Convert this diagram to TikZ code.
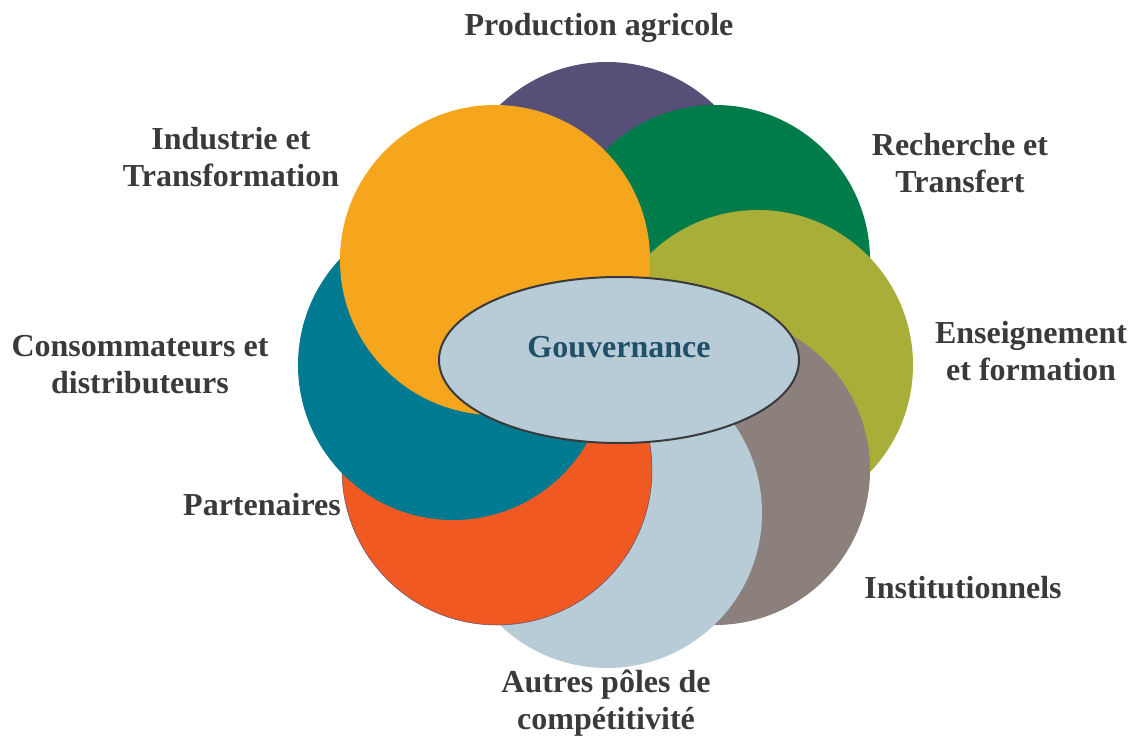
\documentclass[tikz,border=0pt]{standalone}
\usepackage{fontspec}
\setmainfont{Liberation Serif}
\usepackage{tikz}
\usetikzlibrary{shapes.geometric}

\definecolor{cprod}{HTML}{564F78}
\definecolor{crech}{HTML}{007B4A}
\definecolor{cens}{HTML}{A8AE38}
\definecolor{cinst}{HTML}{8C807C}
\definecolor{cautres}{HTML}{B7CCD7}
\definecolor{cpart}{HTML}{F05A22}
\definecolor{ccons}{HTML}{007A91}
\definecolor{cind}{HTML}{F6A61D}
\definecolor{ctext}{HTML}{3A3A3C}
\definecolor{cgouv}{HTML}{1F5068}

\begin{document}
\begin{tikzpicture}[
  x=1pt, y=-1pt,
  every node/.style={font=\bfseries\fontsize{32}{37}\selectfont},
  pole/.style={circle, minimum size=310pt, inner sep=0pt},
  label/.style={text=ctext, align=center, inner sep=0pt, anchor=base}
]
\useasboundingbox (0,0) rectangle (1133,747);

% Circles
\node[pole, fill=cprod]   (prod)   at (607,217) {};
\node[pole, fill=crech]   (rech)   at (715,260) {};
\node[pole, fill=cens]    (ens)    at (758,365) {};
\node[pole, fill=cinst]   (inst)   at (715,470) {};
\node[pole, fill=cautres] (autres) at (607,513) {};
\node[pole, fill=cpart, draw=cprod, line width=0.5pt] (part) at (497,470) {};
\node[pole, fill=ccons]   (cons)   at (453,365) {};
\node[pole, fill=cind]    (ind)    at (495,260) {};

% Centre
\node[ellipse, fill=cautres, draw=ctext, line width=2pt,
      minimum width=360pt, minimum height=166pt, inner sep=0pt,
      text=cgouv, text depth=26pt] (gouv) at (619,360) {Gouvernance};

% Labels (base = last line)
\node[label] (lprod)   at (599,35)  {Production agricole};
\node[label] (lrech)   at (960,192) {Recherche et\\Transfert};
\node[label] (lens)    at (1031,380) {Enseignement\\et formation};
\node[label] (linst)   at (963,598) {Institutionnels};
\node[label] (lautres) at (606,729) {Autres pôles de\\compétitivité};
\node[label] (lpart)   at (262,515) {Partenaires};
\node[label] (lcons)   at (140,393) {Consommateurs et\\distributeurs};
\node[label] (lind)    at (231,186) {Industrie et\\Transformation};

\end{tikzpicture}
\end{document}
